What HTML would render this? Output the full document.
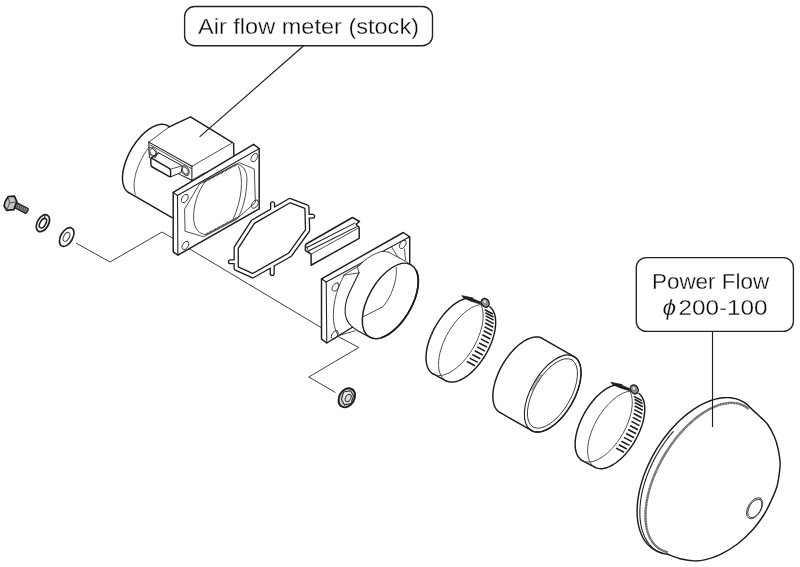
<!DOCTYPE html>
<html><head><meta charset="utf-8"><title>Power Flow installation diagram</title>
<style>
html,body{margin:0;padding:0;background:#fff;}
body{width:800px;height:567px;overflow:hidden;font-family:"Liberation Sans",sans-serif;}
svg{display:block;filter:grayscale(1);}
.k{fill:none;stroke:#1c1c1c;stroke-width:1.45;stroke-linejoin:round;stroke-linecap:round;}
.kf{fill:#fff;stroke:#1c1c1c;stroke-width:1.45;stroke-linejoin:round;stroke-linecap:round;}
.k2{fill:none;stroke:#1c1c1c;stroke-width:1.8;stroke-linecap:round;}
.n{fill:none;stroke:#333;stroke-width:0.85;stroke-linejoin:round;stroke-linecap:round;}
.nf{fill:#fff;stroke:#333;stroke-width:0.85;stroke-linejoin:round;stroke-linecap:round;}
.m{fill:none;stroke:#1c1c1c;stroke-width:1.05;stroke-linejoin:round;stroke-linecap:round;}
.mf{fill:#fff;stroke:#1c1c1c;stroke-width:1.0;stroke-linejoin:round;stroke-linecap:round;}
.l{fill:none;stroke:#2a2a2a;stroke-width:0.9;stroke-linejoin:miter;stroke-linecap:butt;}
.w{fill:#fff;stroke:none;}

.ld{fill:none;stroke:#1c1c1c;stroke-width:1.15;}
.t{stroke:#fff;stroke-width:0.28;fill:#0a0a0a;}
.lb{fill:#fff;stroke:#222;stroke-width:1.35;}
text{font-family:"Liberation Sans",sans-serif;fill:#1a1a1a;}
</style></head><body>
<svg width="800" height="567" viewBox="0 0 800 567">
<rect x="0" y="0" width="800" height="567" fill="#fff"/>
<polyline class="l" points="76,243 110,262 162,232 173,238.3"/>
<polyline class="l" points="189,248.5 321,327.5"/>
<polyline class="l" points="337.5,336.25 358.75,347.5 308.75,377 335.5,392.5"/>
<rect class="lb" x="184.6" y="6.5" width="247.9" height="39.2" rx="10" ry="10"/>
<text class="t" x="198" y="34.4" font-size="21.7" textLength="221" lengthAdjust="spacingAndGlyphs">Air flow meter (stock)</text>
<rect class="lb" x="636.3" y="257.6" width="157.1" height="73.8" rx="10" ry="10"/>
<text class="t" x="651.9" y="289.1" font-size="21.7" textLength="117.4" lengthAdjust="spacingAndGlyphs">Power Flow</text>
<text class="t" x="662.6" y="314.85" font-size="21.7" font-style="italic" textLength="13.6" lengthAdjust="spacingAndGlyphs">ϕ</text><text class="t" x="678.4" y="314.85" font-size="21.7" textLength="89.2" lengthAdjust="spacingAndGlyphs">200-100</text>
<polyline class="k" points="128.85,192.71 127.54,191.81 126.37,190.69 125.34,189.37 124.46,187.85 123.74,186.14 123.18,184.25 122.78,182.19 122.55,179.99 122.49,177.64 122.60,175.18 122.88,172.61 123.33,169.96 123.93,167.23 124.70,164.45 125.62,161.63 126.70,158.80 127.91,155.97 129.25,153.16 130.73,150.40 132.31,147.69 134.00,145.05 135.79,142.51 137.65,140.08 139.59,137.78 141.58,135.61 143.61,133.60 145.68,131.76 147.76,130.10 149.85,128.64 151.92,127.37 153.97,126.31 155.98,125.47 157.94,124.85 159.84,124.46 161.66,124.30 163.39,124.36 165.02,124.66 166.54,125.18 167.94,125.93 169.21,126.89"/>
<polyline class="k" points="128.85,192.7142 172,217.61175"/>
<polyline class="n" points="135.44,194.29 135.13,193.37 134.87,192.41 134.64,191.41 134.45,190.37 134.30,189.30 134.19,188.19 134.12,187.04 134.10,185.87 134.11,184.66 134.16,183.43 134.26,182.17 134.39,180.89 134.57,179.58 134.78,178.25 135.04,176.91 135.33,175.54 135.66,174.17 136.03,172.78 136.44,171.38 136.89,169.97 137.37,168.56 137.89,167.14 138.44,165.73 139.02,164.31 139.64,162.89 140.29,161.48 140.98,160.08 141.69,158.68 142.43,157.30 143.20,155.93 144.00,154.57 144.82,153.23 145.67,151.91 146.54,150.62 147.43,149.34 148.34,148.09 149.27,146.87 150.22,145.67 151.18,144.51 152.16,143.38"/>
<polygon class="w" points="190.5,116.9 232.5,142.6 234.0,156 191.9,180.25 149.4,157.5 148.85,142.1"/>
<polyline class="k" points="169.2,126.9 190.5,116.9 232.5,142.6"/>
<polyline class="k" points="233.6,143.2 233.9,156"/>
<polyline class="n" points="148.85,142.1 169.2,126.9"/>
<polyline class="m" points="148.85,142.1 191.9,166.25"/>
<polyline class="n" points="191.9,166.25 231.5,143.3"/>
<polyline class="m" points="191.9,166.25 191.9,180.25"/>
<polyline class="m" points="148.85,142.1 149.4,157.5"/>
<polyline class="n" points="150.6,145.0 191.5,168.6"/>
<polyline class="m" points="179.1,174.1 191.9,180.25"/>
<polyline class="n" points="191.9,180.25 205,172.6"/>
<ellipse class="nf" cx="152.9" cy="152.25" rx="5.4" ry="3.5" transform="rotate(60 152.9 152.25)"/>
<ellipse class="n" cx="152.9" cy="152.25" rx="4.0" ry="2.5" transform="rotate(60 152.9 152.25)"/>
<ellipse class="nf" cx="185.25" cy="170.6" rx="5.4" ry="3.5" transform="rotate(60 185.25 170.6)"/>
<ellipse class="n" cx="185.25" cy="170.6" rx="4.0" ry="2.5" transform="rotate(60 185.25 170.6)"/>
<path class="mf" d="M158.55,152.8 L182.3,165.8 L181.2,172.4 L170.6,176.9"/>
<path class="kf" d="M151.6,158.2 L169.2,168.3 Q170.6,169.2 170.6,170.8 L170.6,175.4 Q170.6,177.3 169,176.4 L152.3,167.0 Q150.9,166.2 150.9,164.6 L150.8,159.2 Q150.8,157.6 151.6,158.2 Z"/>
<polyline class="m" points="151.2,158 158.55,152.8"/>
<polyline class="n" points="170.4,169.2 182.3,165.8"/>
<polygon class="kf" points="173.2,192.3 253.6,144.3 259.2,148.6 259.2,208.8 177.9,255.1 173.2,251.9"/>
<polyline class="m" points="173.2,192.3 177.5,195.5 259.2,148.6"/>
<polyline class="m" points="177.5,195.5 177.9,255.1"/>
<polygon class="n" points="184.8,208.8 199.4,184.1 239.2,162.6 254.3,169 255.4,202.4 236,219.6 203.7,236.8 185.4,231.4"/>
<path class="n" d="M205.5,181.0 L236,164.1 C243,164.5 247.5,171 246.9,181 C246.3,195 243.5,208 238.15,217.45 L205.9,234.65 C199,234 194.3,229 193.6,219 C193.2,205 198,191 205.5,181.0 Z"/>
<path class="n" d="M238.5,166.5 C244,178 242,200 233,219.5"/>
<line x1="203.5" y1="182.3" x2="236" y2="164.9" stroke="#333" stroke-width="1.9" stroke-dasharray="0.8 0.7"/>
<line x1="206.3" y1="234.0" x2="238" y2="217.0" stroke="#333" stroke-width="1.5" stroke-dasharray="0.8 0.7"/>
<ellipse class="n" cx="184.8" cy="198.5" rx="4.6" ry="2.76" transform="rotate(-60 184.8 198.5)" />
<ellipse class="n" cx="254.3" cy="157.6" rx="4.6" ry="2.76" transform="rotate(-60 254.3 157.6)" />
<ellipse class="n" cx="254.9" cy="204.1" rx="4.6" ry="2.76" transform="rotate(-60 254.9 204.1)" />
<ellipse class="n" cx="185.4" cy="245.4" rx="4.6" ry="2.76" transform="rotate(-60 185.4 245.4)" />
<path d="M272.6,209.0 L272.6,203.8 M308.8,216.25 L312.6,216.25 M234.6,261.75 L230.4,261.75 M272.2,266.6 L272.2,273.4" fill="none" stroke="#1c1c1c" stroke-width="5.2" stroke-linecap="round"/>
<polygon points="253,221.8 289.9,200.5 306.9,207 307.6,230.3 289.9,254.75 252.8,275.75 236.2,268.2 236.2,247.75" fill="none" stroke="#1c1c1c" stroke-width="5.4" stroke-linejoin="round"/>
<path d="M272.6,209.0 L272.6,203.8 M308.8,216.25 L312.6,216.25 M234.6,261.75 L230.4,261.75 M272.2,266.6 L272.2,273.4" fill="none" stroke="#fff" stroke-width="2.6" stroke-linecap="round"/>
<polygon points="253,221.8 289.9,200.5 306.9,207 307.6,230.3 289.9,254.75 252.8,275.75 236.2,268.2 236.2,247.75" fill="none" stroke="#fff" stroke-width="2.8" stroke-linejoin="round"/>
<polygon class="kf" points="306.2,244 352.5,217.5 359.5,221.5 356.2,224.2 359.2,227.4 359.2,238.3 311.1,265.25 311.1,254.2 305.4,250.7 305.4,245.3"/>
<polyline class="m" points="307.0,247.5 354.8,223.1"/>
<polyline class="m" points="308.4,251.0 357.4,226.4"/>
<polyline class="n" points="311.1,254.2 359.2,227.6"/>
<polyline class="n" points="305.6,245.6 307.0,247.5 308.4,251.0 311.1,254.2"/>
<polygon class="kf" points="321.5,278.8 403.3,232.5 409.7,236.8 409.7,292 326.8,343 321.5,339.1"/>
<polyline class="m" points="321.5,278.8 326.2,282 409.7,236.8"/>
<polyline class="m" points="326.2,282 326.8,343"/>
<ellipse class="n" cx="335.5" cy="287" rx="4.6" ry="2.76" transform="rotate(-60 335.5 287)" />
<ellipse class="n" cx="402.8" cy="244.4" rx="4.6" ry="2.76" transform="rotate(-60 402.8 244.4)" />
<ellipse class="n" cx="334.8" cy="334.8" rx="4.6" ry="2.76" transform="rotate(-60 334.8 334.8)" />
<polyline class="n" points="343,275.6 379.6,253"/>
<path class="n" d="M344,275.6 C338,286 333.5,300 333.3,315.4 C333.2,323 335,330 337.6,334.8"/>
<polyline class="n" points="391.4,246.5 397.9,257.3 403.3,260.5"/>
<polyline class="n" points="404.5,249 405.6,260"/>
<polyline class="n" points="337.6,335.9 354.8,330.9"/>
<path class="w" d="M388.6,252.2 L408.2,262.8 L418,290 L377.4,339.1 L366,335.2 L355.8,329.5 L348.5,322.7 L345.2,313.7 L346.2,301.3 L350.7,290 L359.1,272.8 L357.4,267.4 L367.5,258.2 L380.3,251.8 Z"/>
<polyline class="n" points="344,275.2 359.1,272.8 357.4,267.4"/>
<ellipse class="kf" cx="390.3" cy="300.9" rx="41.7" ry="21.56" transform="rotate(-60 390.3 300.9)" />
<polyline class="k2" points="416.28,270.65 416.83,271.98 417.29,273.39 417.67,274.90 417.95,276.48 418.15,278.15 418.26,279.89 418.28,281.70 418.21,283.57 418.05,285.49 417.80,287.47 417.47,289.49 417.04,291.54 416.53,293.63 415.94,295.73 415.26,297.86 414.50,299.99 413.66,302.13 412.75,304.26 411.77,306.39 410.72,308.49 409.60,310.57 408.42,312.62 407.18,314.63 405.89,316.60 404.54,318.52 403.15,320.38 401.72,322.18 400.26,323.90 398.76,325.56 397.23,327.14 395.68,328.63 394.12,330.03 392.54,331.34 390.96,332.55 389.37,333.66 387.78,334.66 386.21,335.56 384.64,336.34 383.10,337.01 381.58,337.56"/>
<path class="n"  d="M357.40,267.40 C359.08,265.87 363.68,260.80 367.50,258.20 C371.32,255.60 376.78,252.80 380.30,251.80 C383.82,250.80 387.22,252.13 388.60,252.20"/>
<polyline class="n" points="388.6,252.2 408.0,262.6"/>
<path class="m"  d="M359.10,272.80 C357.70,275.67 352.85,285.25 350.70,290.00 C348.55,294.75 347.12,297.35 346.20,301.30 C345.28,305.25 344.82,310.13 345.20,313.70 C345.58,317.27 346.73,320.07 348.50,322.70 C350.27,325.33 352.88,327.42 355.80,329.50 C358.72,331.58 362.88,333.68 366.00,335.20 C369.12,336.72 373.08,338.03 374.50,338.60"/>
<path class="n" d="M396.3,267.4 C396.5,274 396,278 395.2,281 C394,286 392.5,290.5 390.65,294.5 C388.5,299 385.8,303.2 382.7,306.9 L363.5,316.5"/>
<polyline class="k" points="433.10,373.94 431.77,373.03 430.56,371.92 429.48,370.62 428.54,369.14 427.75,367.47 427.10,365.64 426.60,363.64 426.26,361.50 426.07,359.22 426.04,356.82 426.17,354.31 426.46,351.70 426.89,349.00 427.48,346.24 428.22,343.43 429.11,340.58 430.14,337.71 431.30,334.84 432.58,331.97 433.99,329.13 435.51,326.33 437.14,323.59 438.87,320.92 440.68,318.34 442.56,315.86 444.52,313.49 446.52,311.25 448.58,309.15 450.66,307.20 452.77,305.42 454.89,303.80 457.00,302.37 459.11,301.13 461.18,300.08 463.22,299.23 465.22,298.59 467.16,298.16 469.02,297.94 470.81,297.94 472.51,298.14"/>
<polyline class="k" points="433.1,373.938 445.6,380.538"/>
<polyline class="k" points="489.86,306.91 491.12,308.05 492.23,309.39 493.20,310.94 494.01,312.67 494.67,314.59 495.16,316.68 495.49,318.92 495.65,321.30 495.64,323.82 495.46,326.45 495.12,329.18 494.61,332.00 493.94,334.87 493.11,337.80 492.12,340.77 490.99,343.74 489.72,346.72 488.32,349.67 486.79,352.59 485.14,355.45 483.39,358.24 481.54,360.94 479.61,363.54 477.60,366.02 475.53,368.36 473.42,370.56 471.26,372.60 469.08,374.46 466.89,376.14 464.70,377.63 462.52,378.91 460.37,379.99 458.26,380.85 456.20,381.48 454.21,381.89 452.29,382.08 450.46,382.03 448.73,381.76 447.11,381.26 445.60,380.54"/>
<polyline class="n" points="445.60,380.54 444.25,379.62 443.03,378.50 441.94,377.17 441.00,375.66 440.20,373.97 439.56,372.10 439.07,370.07 438.74,367.89 438.56,365.57 438.55,363.13 438.70,360.57 439.01,357.92 439.47,355.19 440.10,352.38 440.87,349.53 441.79,346.64 442.86,343.74 444.06,340.83 445.39,337.93 446.84,335.07 448.41,332.25 450.08,329.49 451.85,326.81 453.70,324.23 455.63,321.75 457.62,319.39 459.67,317.17 461.76,315.09 463.88,313.17 466.02,311.43 468.16,309.86 470.30,308.48 472.42,307.30 474.50,306.32 476.55,305.54 478.55,304.98 480.48,304.64 482.33,304.51 484.10,304.60 485.77,304.91"/>
<polyline class="n" points="478.51,301.34 479.61,302.62 480.57,304.10 481.38,305.75 482.05,307.58 482.56,309.58 482.92,311.72 483.12,314.00 483.16,316.41 483.04,318.93 482.77,321.55 482.33,324.25 481.75,327.02 481.01,329.85 480.12,332.72 479.10,335.60 477.93,338.50 476.64,341.38 475.22,344.24 473.69,347.05 472.06,349.81 470.32,352.50 468.50,355.09 466.60,357.59 464.64,359.97 462.62,362.21 460.55,364.32 458.45,366.27 456.33,368.06 454.20,369.68 452.07,371.11 449.96,372.35 447.87,373.39 445.82,374.22 443.82,374.85 441.88,375.27 440.01,375.47 438.22,375.45 436.52,375.22 434.92,374.78 433.43,374.12"/>
<line x1="484.79" y1="309.77" x2="492.79" y2="313.99" stroke="#1c1c1c" stroke-width="1.6"/>
<line x1="485.37" y1="312.70" x2="493.37" y2="316.93" stroke="#1c1c1c" stroke-width="1.6"/>
<line x1="485.64" y1="315.91" x2="493.64" y2="320.14" stroke="#1c1c1c" stroke-width="1.6"/>
<line x1="485.60" y1="319.37" x2="493.60" y2="323.59" stroke="#1c1c1c" stroke-width="1.6"/>
<line x1="485.24" y1="323.02" x2="493.24" y2="327.25" stroke="#1c1c1c" stroke-width="1.6"/>
<line x1="484.58" y1="326.84" x2="492.58" y2="331.07" stroke="#1c1c1c" stroke-width="1.6"/>
<line x1="483.62" y1="330.79" x2="491.62" y2="335.01" stroke="#1c1c1c" stroke-width="1.6"/>
<line x1="482.36" y1="334.81" x2="490.36" y2="339.04" stroke="#1c1c1c" stroke-width="1.6"/>
<line x1="480.83" y1="338.87" x2="488.83" y2="343.09" stroke="#1c1c1c" stroke-width="1.6"/>
<line x1="479.04" y1="342.92" x2="487.04" y2="347.14" stroke="#1c1c1c" stroke-width="1.6"/>
<line x1="477.00" y1="346.91" x2="485.00" y2="351.14" stroke="#1c1c1c" stroke-width="1.6"/>
<line x1="474.75" y1="350.81" x2="482.75" y2="355.04" stroke="#1c1c1c" stroke-width="1.6"/>
<line x1="472.31" y1="354.57" x2="480.31" y2="358.79" stroke="#1c1c1c" stroke-width="1.6"/>
<line x1="469.70" y1="358.15" x2="477.70" y2="362.37" stroke="#1c1c1c" stroke-width="1.6"/>
<line x1="466.95" y1="361.50" x2="474.95" y2="365.73" stroke="#1c1c1c" stroke-width="1.6"/>
<path d="M461.70,295.60 L469.00,297.10 L480.50,301.90 L480.20,304.10 L471.00,301.30 L463.50,297.90 Z" fill="#1c1c1c" stroke="#1c1c1c" stroke-width="0.6" stroke-linejoin="round"/>
<ellipse cx="485.20" cy="302.80" rx="3.7" ry="4.6" transform="rotate(-30 485.20 302.80)" fill="#8c8c8c" stroke="#1c1c1c" stroke-width="1.4"/>
<ellipse cx="485.40" cy="301.60" rx="1.2" ry="1.6" transform="rotate(-30 485.20 302.80)" fill="#e0e0e0" stroke="none"/>
<polyline class="k" points="582.20,460.54 580.87,459.63 579.66,458.52 578.58,457.22 577.64,455.74 576.85,454.07 576.20,452.24 575.70,450.24 575.36,448.10 575.17,445.82 575.14,443.42 575.27,440.91 575.56,438.30 575.99,435.60 576.58,432.84 577.32,430.03 578.21,427.18 579.24,424.31 580.40,421.44 581.68,418.57 583.09,415.73 584.61,412.93 586.24,410.19 587.97,407.52 589.78,404.94 591.66,402.46 593.62,400.09 595.62,397.85 597.68,395.75 599.76,393.80 601.87,392.02 603.99,390.40 606.10,388.97 608.21,387.73 610.28,386.68 612.32,385.83 614.32,385.19 616.26,384.76 618.12,384.54 619.91,384.54 621.61,384.74"/>
<polyline class="k" points="582.2,460.538 594.7,467.138"/>
<polyline class="k" points="638.96,393.51 640.22,394.65 641.33,395.99 642.30,397.54 643.11,399.27 643.77,401.19 644.26,403.28 644.59,405.52 644.75,407.90 644.74,410.42 644.56,413.05 644.22,415.78 643.71,418.60 643.04,421.47 642.21,424.40 641.22,427.37 640.09,430.34 638.82,433.32 637.42,436.27 635.89,439.19 634.24,442.05 632.49,444.84 630.64,447.54 628.71,450.14 626.70,452.62 624.63,454.96 622.52,457.16 620.36,459.20 618.18,461.06 615.99,462.74 613.80,464.23 611.62,465.51 609.47,466.59 607.36,467.45 605.30,468.08 603.31,468.49 601.39,468.68 599.56,468.63 597.83,468.36 596.21,467.86 594.70,467.14"/>
<polyline class="n" points="594.70,467.14 593.35,466.22 592.13,465.10 591.04,463.77 590.10,462.26 589.30,460.57 588.66,458.70 588.17,456.67 587.84,454.49 587.66,452.17 587.65,449.73 587.80,447.17 588.11,444.52 588.57,441.79 589.20,438.98 589.97,436.13 590.89,433.24 591.96,430.34 593.16,427.43 594.49,424.53 595.94,421.67 597.51,418.85 599.18,416.09 600.95,413.41 602.80,410.83 604.73,408.35 606.72,405.99 608.77,403.77 610.86,401.69 612.98,399.77 615.12,398.03 617.26,396.46 619.40,395.08 621.52,393.90 623.60,392.92 625.65,392.14 627.65,391.58 629.58,391.24 631.43,391.11 633.20,391.20 634.87,391.51"/>
<polyline class="n" points="627.61,387.94 628.71,389.22 629.67,390.70 630.48,392.35 631.15,394.18 631.66,396.18 632.02,398.32 632.22,400.60 632.26,403.01 632.14,405.53 631.87,408.15 631.43,410.85 630.85,413.62 630.11,416.45 629.22,419.32 628.20,422.20 627.03,425.10 625.74,427.98 624.32,430.84 622.79,433.65 621.16,436.41 619.42,439.10 617.60,441.69 615.70,444.19 613.74,446.57 611.72,448.81 609.65,450.92 607.55,452.87 605.43,454.66 603.30,456.28 601.17,457.71 599.06,458.95 596.97,459.99 594.92,460.82 592.92,461.45 590.98,461.87 589.11,462.07 587.32,462.05 585.62,461.82 584.02,461.38 582.53,460.72"/>
<line x1="633.89" y1="396.37" x2="641.89" y2="400.59" stroke="#1c1c1c" stroke-width="1.6"/>
<line x1="634.47" y1="399.30" x2="642.47" y2="403.53" stroke="#1c1c1c" stroke-width="1.6"/>
<line x1="634.74" y1="402.51" x2="642.74" y2="406.74" stroke="#1c1c1c" stroke-width="1.6"/>
<line x1="634.70" y1="405.97" x2="642.70" y2="410.19" stroke="#1c1c1c" stroke-width="1.6"/>
<line x1="634.34" y1="409.62" x2="642.34" y2="413.85" stroke="#1c1c1c" stroke-width="1.6"/>
<line x1="633.68" y1="413.44" x2="641.68" y2="417.67" stroke="#1c1c1c" stroke-width="1.6"/>
<line x1="632.72" y1="417.39" x2="640.72" y2="421.61" stroke="#1c1c1c" stroke-width="1.6"/>
<line x1="631.46" y1="421.41" x2="639.46" y2="425.64" stroke="#1c1c1c" stroke-width="1.6"/>
<line x1="629.93" y1="425.47" x2="637.93" y2="429.69" stroke="#1c1c1c" stroke-width="1.6"/>
<line x1="628.14" y1="429.52" x2="636.14" y2="433.74" stroke="#1c1c1c" stroke-width="1.6"/>
<line x1="626.10" y1="433.51" x2="634.10" y2="437.74" stroke="#1c1c1c" stroke-width="1.6"/>
<line x1="623.85" y1="437.41" x2="631.85" y2="441.64" stroke="#1c1c1c" stroke-width="1.6"/>
<line x1="621.41" y1="441.17" x2="629.41" y2="445.39" stroke="#1c1c1c" stroke-width="1.6"/>
<line x1="618.80" y1="444.75" x2="626.80" y2="448.97" stroke="#1c1c1c" stroke-width="1.6"/>
<line x1="616.05" y1="448.10" x2="624.05" y2="452.33" stroke="#1c1c1c" stroke-width="1.6"/>
<path d="M610.80,382.20 L618.10,383.70 L629.60,388.50 L629.30,390.70 L620.10,387.90 L612.60,384.50 Z" fill="#1c1c1c" stroke="#1c1c1c" stroke-width="0.6" stroke-linejoin="round"/>
<ellipse cx="634.30" cy="389.40" rx="3.7" ry="4.6" transform="rotate(-30 634.30 389.40)" fill="#8c8c8c" stroke="#1c1c1c" stroke-width="1.4"/>
<ellipse cx="634.50" cy="388.20" rx="1.2" ry="1.6" transform="rotate(-30 634.30 389.40)" fill="#e0e0e0" stroke="none"/>
<polyline class="k" points="499.85,412.48 498.45,411.52 497.19,410.34 496.08,408.94 495.12,407.34 494.33,405.54 493.70,403.55 493.24,401.40 492.95,399.08 492.84,396.62 492.90,394.02 493.13,391.32 493.54,388.51 494.12,385.63 494.87,382.68 495.78,379.69 496.84,376.67 498.06,373.65 499.42,370.64 500.91,367.65 502.53,364.72 504.26,361.85 506.10,359.07 508.03,356.38 510.04,353.82 512.12,351.39 514.25,349.11 516.43,346.99 518.64,345.04 520.87,343.29 523.09,341.73 525.31,340.38 527.50,339.25 529.65,338.34 531.75,337.66 533.78,337.21 535.73,337.00 537.60,337.03 539.37,337.29 541.02,337.79 542.55,338.52"/>
<polyline class="k" points="542.5500000000001,338.5218 574.0500000000001,356.5218"/>
<polyline class="k" points="499.85,412.4782 531.35,430.4782"/>
<ellipse class="m" cx="552.7" cy="393.5" rx="42.7" ry="21.56" transform="rotate(-60 552.7 393.5)" />
<polyline class="k" points="574.05,356.52 575.45,357.48 576.71,358.66 577.82,360.06 578.78,361.66 579.57,363.46 580.20,365.45 580.66,367.60 580.95,369.92 581.06,372.38 581.00,374.98 580.77,377.68 580.36,380.49 579.78,383.37 579.03,386.32 578.12,389.31 577.06,392.33 575.84,395.35 574.48,398.36 572.99,401.35 571.37,404.28 569.64,407.15 567.80,409.93 565.87,412.62 563.86,415.18 561.78,417.61 559.65,419.89 557.47,422.01 555.26,423.96 553.03,425.71 550.81,427.27 548.59,428.62 546.40,429.75 544.25,430.66 542.15,431.34 540.12,431.79 538.17,432.00 536.30,431.97 534.53,431.71 532.88,431.21 531.35,430.48"/>
<ellipse class="n" cx="552.5" cy="393.4" rx="38.8" ry="18.43" transform="rotate(-60 552.5 393.4)" />
<line x1="530.31" y1="390.68" x2="533.99" y2="388.95" stroke="#555" stroke-width="0.7"/>
<line x1="531.22" y1="388.70" x2="534.91" y2="387.15" stroke="#555" stroke-width="0.7"/>
<line x1="532.19" y1="386.74" x2="535.87" y2="385.36" stroke="#555" stroke-width="0.7"/>
<line x1="533.21" y1="384.79" x2="536.88" y2="383.60" stroke="#555" stroke-width="0.7"/>
<line x1="534.29" y1="382.87" x2="537.93" y2="381.86" stroke="#555" stroke-width="0.7"/>
<line x1="535.42" y1="380.98" x2="539.02" y2="380.16" stroke="#555" stroke-width="0.7"/>
<line x1="536.59" y1="379.12" x2="540.15" y2="378.49" stroke="#555" stroke-width="0.7"/>
<line x1="537.81" y1="377.30" x2="541.31" y2="376.86" stroke="#555" stroke-width="0.7"/>
<line x1="539.07" y1="375.52" x2="542.51" y2="375.28" stroke="#555" stroke-width="0.7"/>
<polyline class="k"  points="667.18,553.99 664.83,553.67 662.55,553.19 660.34,552.55 658.21,551.76 656.16,550.82 654.20,549.72 652.33,548.48 650.55,547.09 648.87,545.55 647.29,543.88 645.81,542.06 644.45,540.12 643.19,538.04 642.04,535.84 641.01,533.52 640.10,531.08 639.30,528.53 638.63,525.88 638.07,523.12 637.64,520.27 637.33,517.33 637.15,514.30 637.09,511.20 637.16,508.02 637.35,504.78 637.67,501.49 638.11,498.14 638.67,494.74 639.35,491.31 640.16,487.85 641.08,484.36 642.12,480.86 643.27,477.34 644.54,473.83 645.91,470.31 647.39,466.81 648.98,463.33 650.67,459.87 652.45,456.45 654.33,453.06 656.30,449.72 658.35,446.43 660.49,443.21 662.70,440.04 664.99,436.95 667.35,433.94 669.77,431.02 672.24,428.18 674.78,425.44 677.36,422.81 679.98,420.28 682.64,417.86 685.34,415.56 688.06,413.38 690.80,411.33 693.56,409.40 696.34,407.62 699.11,405.96 701.89,404.46 704.66,403.09 707.42,401.87 710.16,400.80 712.88,399.89 715.57,399.12 718.22,398.52 720.84,398.06 723.41,397.77 725.94,397.63 728.41,397.65 730.82,397.83 733.16,398.17 735.44,398.66 737.64,399.31 739.76,400.11 741.81,401.07 743.76,402.18 745.62,403.43 747.40,404.84 749.07,406.38 750.64,408.07"/>
<path class="k"  d="M750.64,408.07 C751.98,409.31 755.85,412.76 758.70,415.50 C761.55,418.24 765.12,420.92 767.75,424.50 C770.38,428.08 772.81,433.05 774.50,437.00 C776.19,440.95 776.97,443.95 777.90,448.20 C778.83,452.45 779.88,458.20 780.10,462.50 C780.32,466.80 779.75,469.92 779.20,474.00 C778.65,478.08 778.12,482.58 776.80,487.00 C775.47,491.42 773.42,495.83 771.25,500.50 C769.08,505.17 766.88,510.08 763.75,515.00 C760.62,519.92 756.88,525.17 752.50,530.00 C748.12,534.83 742.82,539.93 737.50,544.00 C732.18,548.07 725.92,551.80 720.60,554.40 C715.28,557.00 709.97,558.52 705.60,559.60 C701.23,560.68 698.46,561.00 694.40,560.90 C690.34,560.80 685.79,560.15 681.25,559.00 C676.71,557.85 669.53,554.82 667.18,553.99"/>
<polyline class="m"  points="662.91,553.63 661.73,553.20 660.57,552.73 659.44,552.21 658.33,551.64 657.25,551.03 656.20,550.37 655.17,549.66 654.17,548.91 653.21,548.12 652.27,547.28 651.36,546.40 650.48,545.48 649.64,544.51 648.83,543.51 648.05,542.46 647.30,541.37 646.59,540.25 645.91,539.08 645.26,537.88 644.65,536.63 644.07,535.36 643.53,534.04 643.03,532.69 642.56,531.31 642.13,529.90 641.73,528.45 641.38,526.97 641.05,525.46 640.77,523.92 640.52,522.35 640.32,520.75 640.15,519.13 640.01,517.48 639.92,515.80 639.86,514.10 639.84,512.38 639.86,510.64 639.92,508.88 640.01,507.10 640.15,505.30 640.32,503.48 640.53,501.64 640.78,499.80 641.06,497.93 641.38,496.06 641.74,494.17 642.14,492.27 642.57,490.37 643.04,488.45 643.54,486.53 644.08,484.60 644.66,482.67 645.27,480.74 645.92,478.80 646.60,476.86 647.31,474.93 648.06,472.99 648.84,471.06 649.65,469.13 650.50,467.21 651.37,465.29 652.28,463.38 653.22,461.48 654.19,459.58 655.19,457.70 656.21,455.84 657.27,453.98 658.35,452.14 659.45,450.31 660.59,448.51 661.75,446.72 662.93,444.94 664.14,443.19 665.37,441.46 666.62,439.75 667.90,438.07 669.19,436.41 670.51,434.77 671.84,433.16 673.19,431.58"/>
<polyline class="x" style="fill:none;stroke:#9a9a9a;stroke-width:2.3" points="667.54,552.09 666.27,551.79 665.03,551.42 663.81,551.00 662.63,550.51 661.48,549.97 660.37,549.37 659.29,548.71 658.25,547.99 657.24,547.21 656.26,546.38 655.33,545.50 654.43,544.55 653.58,543.56 652.76,542.51 651.98,541.41 651.25,540.25 650.55,539.05 649.90,537.79 649.29,536.49 648.73,535.14 648.21,533.74 647.73,532.30 647.30,530.81 646.91,529.28 646.57,527.71 646.27,526.09 646.02,524.44 645.82,522.75 645.66,521.02 645.55,519.26 645.48,517.47 645.46,515.64 645.49,513.78 645.56,511.89 645.68,509.98 645.84,508.04 646.06,506.07 646.31,504.08 646.62,502.07 646.97,500.04 647.36,497.99 647.80,495.93 648.29,493.85 648.81,491.75 649.39,489.65 650.00,487.54 650.66,485.41 651.36,483.29 652.10,481.15 652.88,479.02 653.71,476.88 654.57,474.75 655.47,472.62 656.41,470.49 657.39,468.37 658.40,466.25 659.45,464.14 660.54,462.05 661.66,459.97 662.81,457.90 664.00,455.85 665.21,453.82 666.46,451.80 667.74,449.81 669.04,447.84 670.37,445.90 671.73,443.98 673.12,442.09 674.52,440.22 675.95,438.39 677.41,436.59 678.88,434.82 680.37,433.09 681.88,431.40 683.41,429.74 684.95,428.12 686.50,426.54 688.07,425.01 689.66,423.51 691.25,422.06 692.85,420.66 694.46,419.30 696.07,417.99 697.69,416.73 699.32,415.52 700.95,414.35 702.58,413.24 704.20,412.19 705.83,411.18 707.46,410.23 709.08,409.34 710.69,408.50 712.30,407.72 713.91,406.99 715.50,406.32 717.08,405.71 718.65,405.16 720.21,404.67 721.75,404.23 723.28,403.86 724.79,403.55 726.28,403.30 727.75,403.10 729.20,402.97 730.63,402.90 732.04,402.89 733.43,402.94 734.79,403.05 736.12,403.23 737.42,403.46 738.70,403.75 739.95,404.11 741.17,404.52 742.35,404.99 743.51,405.53 744.63,406.12 745.71,406.77 746.77,407.47 747.78,408.24 748.76,409.06"/>
<polyline class="x" style="fill:none;stroke:#555;stroke-width:2.3;stroke-dasharray:0.7 0.9" points="667.54,552.09 666.27,551.79 665.03,551.42 663.81,551.00 662.63,550.51 661.48,549.97 660.37,549.37 659.29,548.71 658.25,547.99 657.24,547.21 656.26,546.38 655.33,545.50 654.43,544.55 653.58,543.56 652.76,542.51 651.98,541.41 651.25,540.25 650.55,539.05 649.90,537.79 649.29,536.49 648.73,535.14 648.21,533.74 647.73,532.30 647.30,530.81 646.91,529.28 646.57,527.71 646.27,526.09 646.02,524.44 645.82,522.75 645.66,521.02 645.55,519.26 645.48,517.47 645.46,515.64 645.49,513.78 645.56,511.89 645.68,509.98 645.84,508.04 646.06,506.07 646.31,504.08 646.62,502.07 646.97,500.04 647.36,497.99 647.80,495.93 648.29,493.85 648.81,491.75 649.39,489.65 650.00,487.54 650.66,485.41 651.36,483.29 652.10,481.15 652.88,479.02 653.71,476.88 654.57,474.75 655.47,472.62 656.41,470.49 657.39,468.37 658.40,466.25 659.45,464.14 660.54,462.05 661.66,459.97 662.81,457.90 664.00,455.85 665.21,453.82 666.46,451.80 667.74,449.81 669.04,447.84 670.37,445.90 671.73,443.98 673.12,442.09 674.52,440.22 675.95,438.39 677.41,436.59 678.88,434.82 680.37,433.09 681.88,431.40 683.41,429.74 684.95,428.12 686.50,426.54 688.07,425.01 689.66,423.51 691.25,422.06 692.85,420.66 694.46,419.30 696.07,417.99 697.69,416.73 699.32,415.52 700.95,414.35 702.58,413.24 704.20,412.19 705.83,411.18 707.46,410.23 709.08,409.34 710.69,408.50 712.30,407.72 713.91,406.99 715.50,406.32 717.08,405.71 718.65,405.16 720.21,404.67 721.75,404.23 723.28,403.86 724.79,403.55 726.28,403.30 727.75,403.10 729.20,402.97 730.63,402.90 732.04,402.89 733.43,402.94 734.79,403.05 736.12,403.23 737.42,403.46 738.70,403.75 739.95,404.11 741.17,404.52 742.35,404.99 743.51,405.53 744.63,406.12 745.71,406.77 746.77,407.47 747.78,408.24 748.76,409.06"/>
<ellipse class="n" cx="754.6" cy="508.2" rx="11.6" ry="6.50" transform="rotate(-60 754.6 508.2)" />
<ellipse class="n" cx="754.9" cy="508.4" rx="10.2" ry="5.71" transform="rotate(-60 754.9 508.4)" />
<g transform="rotate(27 12 203)">
<rect x="12" y="200.6" width="17.5" height="5.4" rx="1.2" fill="#8a8a8a" stroke="#1c1c1c" stroke-width="1.3"/>
<line x1="15.5" y1="200.8" x2="16.5" y2="205.8" stroke="#3a3a3a" stroke-width="0.8"/>
<line x1="17.7" y1="200.8" x2="18.7" y2="205.8" stroke="#3a3a3a" stroke-width="0.8"/>
<line x1="19.9" y1="200.8" x2="20.9" y2="205.8" stroke="#3a3a3a" stroke-width="0.8"/>
<line x1="22.1" y1="200.8" x2="23.1" y2="205.8" stroke="#3a3a3a" stroke-width="0.8"/>
<line x1="24.3" y1="200.8" x2="25.3" y2="205.8" stroke="#3a3a3a" stroke-width="0.8"/>
<line x1="26.5" y1="200.8" x2="27.5" y2="205.8" stroke="#3a3a3a" stroke-width="0.8"/>
</g>
<polygon points="5.1,201.6 8.3,196.5 14.4,196.2 16.8,201.6 13.8,209.6 6.6,210.3 4.1,206" fill="#c4c4c4" stroke="#1c1c1c" stroke-width="1.7" stroke-linejoin="round"/>
<path d="M8.3,196.8 L9.6,203 L6.8,210 M9.6,203 L16.4,201.8" fill="none" stroke="#444" stroke-width="0.9"/>
<ellipse cx="42.9" cy="223.2" rx="9.2" ry="5.6" transform="rotate(-60 42.9 223.2)" fill="#fff" stroke="#1c1c1c" stroke-width="1.7"/>
<ellipse cx="42.9" cy="223.2" rx="5.2" ry="2.8" transform="rotate(-60 42.9 223.2)" fill="#fff" stroke="#1c1c1c" stroke-width="1.5"/>
<path d="M45.2,215.6 L44.2,218.6" stroke="#1c1c1c" stroke-width="1.1"/>
<ellipse cx="66.7" cy="237" rx="10.2" ry="6.0" transform="rotate(-60 66.7 237)" fill="#fff" stroke="#1c1c1c" stroke-width="1.6"/>
<ellipse cx="66.5" cy="236.8" rx="4.9" ry="2.7" transform="rotate(-60 66.5 236.8)" fill="#fff" stroke="#333" stroke-width="0.9"/>
<ellipse cx="346.8" cy="397.8" rx="10.1" ry="7.6" transform="rotate(-60 346.8 397.8)" fill="#cfcfcf" stroke="#1c1c1c" stroke-width="1.9"/>
<path d="M343.5,392 L350.5,390.8 L353.5,396 L351,403.5 L344.5,404.8 L341.5,399.5 Z" fill="#ececec" stroke="#2a2a2a" stroke-width="1.1"/>
<ellipse cx="348.2" cy="398" rx="4.0" ry="2.6" transform="rotate(-60 348.2 398)" fill="#ddd" stroke="#333" stroke-width="1.0"/>
<polyline class="ld" points="303.4,46 199.6,136.85"/>
<polyline class="ld" points="712.5,331.4 712.5,427"/>
</svg>
</body></html>
